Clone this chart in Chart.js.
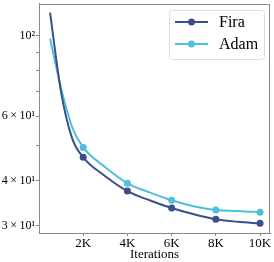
<!DOCTYPE html>
<html><head><meta charset="utf-8">
<script src="https://cdn.jsdelivr.net/npm/chart.js@4/dist/chart.umd.min.js"></script>
<style>html,body{margin:0;padding:0;background:#fff}#wrap{width:274px;height:262px}</style>
</head><body><div id="wrap"><canvas id="c" width="274" height="262"></canvas></div>
<script>
const iterations = [500, 1000, 1500, 2000, 3000, 4000, 5000, 6000, 7000, 8000, 9000, 10000];
const firaLoss = [115.6, 69.8, 52.2, 46.3, 41.1, 37.4, 35.3, 33.6, 32.3, 31.3, 30.8, 30.5];
const adamLoss = [98.1, 71.6, 56.0, 49.3, 43.5, 39.3, 37.1, 35.3, 34.0, 33.2, 33.0, 32.7];
const markerIters = [2000, 4000, 6000, 8000, 10000];
const xTicks = [2000, 4000, 6000, 8000, 10000];
const xTickLabels = ['2K', '4K', '6K', '8K', '10K'];
const yTicks = [30, 40, 50, 60, 70, 80, 90, 100];
const yTickLabels = {30: '3\u2009×\u200910¹', 40: '4\u2009×\u200910¹', 60: '6\u2009×\u200910¹', 100: '10²'};
const seriesNames = ['Fira', 'Adam'];
const seriesColors = ['#3b4f8c', '#4fc0db'];

const SERIF = '"Liberation Serif", "Times New Roman", serif';
function pts(vals){ return iterations.map((x,i)=>({x:x,y:vals[i]})); }
function radii(){ return iterations.map(x => markerIters.includes(x) ? 3.5 : 0); }

const frame = {
  id: 'frame',
  afterDatasetsDraw(chart){
    const {ctx, chartArea:a} = chart;
    ctx.save();
    ctx.strokeStyle = '#8a8a8a'; ctx.lineWidth = 1;
    ctx.strokeRect(Math.round(a.left)+0.5, Math.round(a.top)+0.5, Math.round(a.right-a.left)-1, Math.round(a.bottom-a.top)-1);
    ctx.restore();
  },
  afterDraw(chart){
    const ctx = chart.ctx;
    ctx.save();
    const bx=169.5, by=10.5, bw=95, bh=49, r=3;
    ctx.fillStyle='rgba(255,255,255,0.8)';
    ctx.strokeStyle='#dcdcdc'; ctx.lineWidth=1;
    ctx.beginPath();
    ctx.moveTo(bx+r,by); ctx.lineTo(bx+bw-r,by); ctx.arcTo(bx+bw,by,bx+bw,by+r,r);
    ctx.lineTo(bx+bw,by+bh-r); ctx.arcTo(bx+bw,by+bh,bx+bw-r,by+bh,r);
    ctx.lineTo(bx+r,by+bh); ctx.arcTo(bx,by+bh,bx,by+bh-r,r);
    ctx.lineTo(bx,by+r); ctx.arcTo(bx,by,bx+r,by,r); ctx.closePath();
    ctx.fill(); ctx.stroke();
    const rows=[22,44];
    chart.data.datasets.forEach((ds,i)=>{
      const y=rows[i];
      ctx.strokeStyle=ds.borderColor; ctx.lineWidth=2;
      ctx.beginPath(); ctx.moveTo(175,y); ctx.lineTo(208,y); ctx.stroke();
      ctx.fillStyle=ds.borderColor;
      ctx.beginPath(); ctx.arc(191.5,y,3.5,0,Math.PI*2); ctx.fill();
      ctx.fillStyle='#000'; ctx.font='16px '+SERIF;
      ctx.textBaseline='middle'; ctx.textAlign='left';
      ctx.fillText(ds.label,219,y+1);
    });
    ctx.restore();
  }
};

new Chart(document.getElementById('c'), {
  type: 'line',
  data: {
    datasets: seriesNames.map((n,i)=>({
      label: n,
      data: pts(i===0?firaLoss:adamLoss),
      borderColor: seriesColors[i],
      backgroundColor: seriesColors[i],
      borderWidth: 2,
      pointRadius: radii(),
      pointHoverRadius: radii(),
      pointBorderWidth: 0,
      cubicInterpolationMode: 'monotone',
      fill: false
    }))
  },
  options: {
    responsive: false,
    animation: false,
    devicePixelRatio: 1,
    layout: {padding: {top: 2, right: 4, left: 0, bottom: 0}},
    plugins: {legend: {display: false}, tooltip: {enabled: false}},
    scales: {
      x: {
        type: 'linear', min: 0, max: 10450,
        afterBuildTicks(s){ s.ticks = xTicks.map(v=>({value:v})); },
        afterFit(s){ s.height = 29; s.paddingLeft = 0; s.paddingRight = 0; },
        ticks: {
          callback(v){ const k=xTicks.indexOf(v); return k>=0?xTickLabels[k]:''; },
          font: {family: SERIF, size: 13}, color: '#000', padding: 0, maxRotation: 0, autoSkip: false
        },
        grid: {display: true, drawOnChartArea: false, drawTicks: true, tickLength: 3, color: '#8a8a8a'},
        border: {display: true, color: '#8a8a8a'},
        title: {display: true, text: 'Iterations', font: {family: SERIF, size: 13}, color: '#000', padding: {top: -3, bottom: 0}}
      },
      y: {
        type: 'logarithmic', min: 28.7, max: 122.4,
        afterBuildTicks(s){ s.ticks = yTicks.map(v=>({value:v})); },
        afterFit(s){ s.width = 39; s.paddingTop = 0; s.paddingBottom = 0; },
        ticks: {
          callback(v){ return yTickLabels[v] || ''; },
          font: {family: SERIF, size: 12}, color: '#000', padding: 1, autoSkip: false
        },
        grid: {display: true, drawOnChartArea: false, drawTicks: true, tickLength: 3, color: '#8a8a8a'},
        border: {display: true, color: '#8a8a8a'}
      }
    }
  },
  plugins: [frame]
});
</script></body></html>
